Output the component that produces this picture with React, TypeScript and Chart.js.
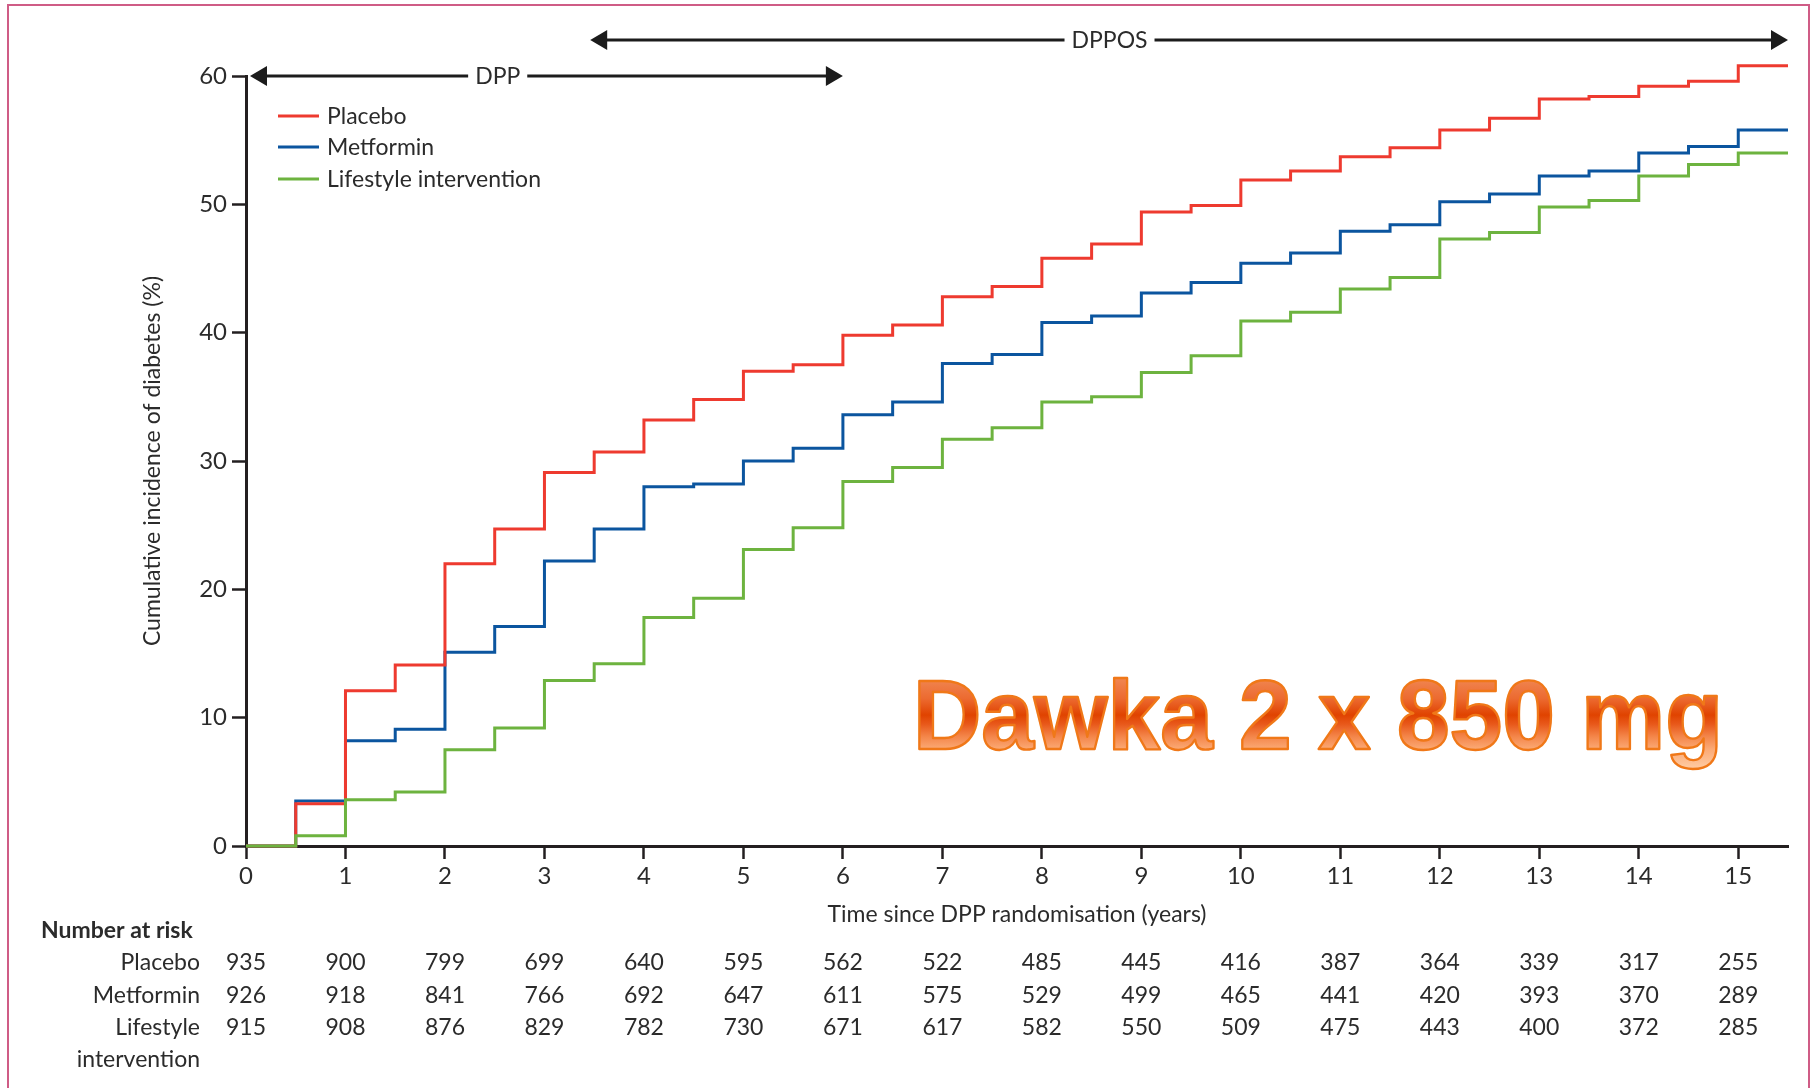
import React, { useEffect, useRef } from 'react';
import { Chart, registerables } from 'chart.js';

Chart.register(...registerables);

// ---- data ----
const years = [0, 0.5, 1, 1.5, 2, 2.5, 3, 3.5, 4, 4.5, 5, 5.5, 6, 6.5, 7, 7.5, 8, 8.5, 9, 9.5, 10, 10.5, 11, 11.5, 12, 12.5, 13, 13.5, 14, 14.5, 15, 15.5];
const placebo = [0, 3.3, 12.1, 14.1, 22.0, 24.7, 29.1, 30.7, 33.2, 34.8, 37.0, 37.5, 39.8, 40.6, 42.8, 43.6, 45.8, 46.9, 49.4, 49.9, 51.9, 52.6, 53.7, 54.4, 55.8, 56.7, 58.2, 58.4, 59.2, 59.6, 60.8, 60.8];
const metformin = [0, 3.5, 8.2, 9.1, 15.1, 17.1, 22.2, 24.7, 28.0, 28.2, 30.0, 31.0, 33.6, 34.6, 37.6, 38.3, 40.8, 41.3, 43.1, 43.9, 45.4, 46.2, 47.9, 48.4, 50.2, 50.8, 52.2, 52.6, 54.0, 54.5, 55.8, 55.8];
const lifestyle = [0, 0.8, 3.6, 4.2, 7.5, 9.2, 12.9, 14.2, 17.8, 19.3, 23.1, 24.8, 28.4, 29.5, 31.7, 32.6, 34.6, 35.0, 36.9, 38.2, 40.9, 41.6, 43.4, 44.3, 47.3, 47.8, 49.8, 50.3, 52.2, 53.1, 54.0, 54.0];

const seriesNames = ['Placebo', 'Metformin', 'Lifestyle intervention'];
const seriesColors = ['#ee3a2f', '#0b559f', '#6db33f'];

const riskYears = [0, 1, 2, 3, 4, 5, 6, 7, 8, 9, 10, 11, 12, 13, 14, 15];
const riskPlacebo = [935, 900, 799, 699, 640, 595, 562, 522, 485, 445, 416, 387, 364, 339, 317, 255];
const riskMetformin = [926, 918, 841, 766, 692, 647, 611, 575, 529, 499, 465, 441, 420, 393, 370, 289];
const riskLifestyle = [915, 908, 876, 829, 782, 730, 671, 617, 582, 550, 509, 475, 443, 400, 372, 285];
const riskLabels = [['Placebo'], ['Metformin'], ['Lifestyle', 'intervention']];

const periods = [
  { label: 'DPP', from: 0.04, to: 6.0, level: 60, labelAt: 2.53 },
  { label: 'DPPOS', from: 3.46, to: 15.5, level: 62.8, labelAt: 8.68 },
];

const stampText = 'Dawka 2 x 850 mg';

// ---- styles ----
const FONT = 'Lato, "Open Sans", "DejaVu Sans", sans-serif';
const TEXT = '#2b2b2b';
const AXIS = '#231f20';

const overlayPlugin = {
  id: 'overlay',
  afterDraw(chart: any) {
    const { ctx } = chart;
    const xs = chart.scales.x;
    const ys = chart.scales.y;
    ctx.save();

    // frame
    ctx.strokeStyle = '#cf5c86';
    ctx.lineWidth = 2;
    ctx.strokeRect(8, 5, 1801, 1200);

    // legend
    ctx.font = `23px ${FONT}`;
    ctx.textBaseline = 'middle';
    ctx.textAlign = 'left';
    const legY = [116, 147, 179];
    seriesNames.forEach((n, i) => {
      ctx.strokeStyle = seriesColors[i];
      ctx.lineWidth = 3;
      ctx.beginPath();
      ctx.moveTo(278, legY[i]);
      ctx.lineTo(319, legY[i]);
      ctx.stroke();
      ctx.fillStyle = TEXT;
      ctx.fillText(n, 327, legY[i] + 1);
    });

    // period arrows
    periods.forEach((p) => {
      const x1 = xs.getPixelForValue(p.from);
      const x2 = xs.getPixelForValue(p.to);
      const yy = ys.getPixelForValue(p.level);
      const lx = xs.getPixelForValue(p.labelAt);
      ctx.font = `23px ${FONT}`;
      const w = ctx.measureText(p.label).width;
      const gap = 7;
      const head = 17;
      const hh = 10;
      ctx.strokeStyle = '#1c1c1c';
      ctx.fillStyle = '#1c1c1c';
      ctx.lineWidth = 3;
      ctx.beginPath();
      ctx.moveTo(x1 + head - 1, yy);
      ctx.lineTo(lx - w / 2 - gap, yy);
      ctx.moveTo(lx + w / 2 + gap, yy);
      ctx.lineTo(x2 - head + 1, yy);
      ctx.stroke();
      ctx.beginPath();
      ctx.moveTo(x1, yy);
      ctx.lineTo(x1 + head, yy - hh);
      ctx.lineTo(x1 + head, yy + hh);
      ctx.closePath();
      ctx.fill();
      ctx.beginPath();
      ctx.moveTo(x2, yy);
      ctx.lineTo(x2 - head, yy - hh);
      ctx.lineTo(x2 - head, yy + hh);
      ctx.closePath();
      ctx.fill();
      ctx.fillStyle = TEXT;
      ctx.textAlign = 'center';
      ctx.textBaseline = 'middle';
      ctx.fillText(p.label, lx, yy + 1);
    });

    // number at risk table
    ctx.fillStyle = TEXT;
    ctx.textBaseline = 'middle';
    ctx.font = `bold 23px ${FONT}`;
    ctx.textAlign = 'left';
    ctx.fillText('Number at risk', 41, 931);
    ctx.font = `23px ${FONT}`;
    const rowY = [963, 996, 1028];
    const rows = [riskPlacebo, riskMetformin, riskLifestyle];
    rows.forEach((vals, r) => {
      ctx.textAlign = 'right';
      riskLabels[r].forEach((t, k) => ctx.fillText(t, 200, rowY[r] + k * 32));
      ctx.textAlign = 'center';
      vals.forEach((v, i) => {
        ctx.fillText(String(v), xs.getPixelForValue(riskYears[i]), rowY[r]);
      });
    });

    // stamp text (gradient-filled, outlined)
    ctx.font = `bold 98px "Liberation Sans", Arial, sans-serif`;
    ctx.textAlign = 'left';
    ctx.textBaseline = 'alphabetic';
    const m = ctx.measureText(stampText).width;
    const sx = 810 / m;
    const base = 749;
    ctx.translate(913, base);
    ctx.scale(sx, 1);
    const grad = ctx.createLinearGradient(0, -70, 0, 20);
    grad.addColorStop(0, '#f08550');
    grad.addColorStop(0.22, '#ec6a30');
    grad.addColorStop(0.4, '#e04300');
    grad.addColorStop(0.5, '#e8581a');
    grad.addColorStop(0.64, '#f4864a');
    grad.addColorStop(0.78, '#fbaa76');
    grad.addColorStop(1, '#ffcca4');
    ctx.fillStyle = grad;
    ctx.fillText(stampText, 0, 0);
    ctx.strokeStyle = '#f07818';
    ctx.lineWidth = 2.4;
    ctx.lineJoin = 'round';
    ctx.strokeText(stampText, 0, 0);

    ctx.restore();
  },
};

export default function App() {
  const ref = useRef<HTMLCanvasElement>(null);

  useEffect(() => {
    const canvas = ref.current;
    if (!canvas) return;
    const mk = (vals: number[]) => years.map((t, i) => ({ x: t, y: vals[i] }));
    const chart = new Chart(canvas, {
      type: 'line',
      data: {
        datasets: [
          { label: seriesNames[0], data: mk(placebo), borderColor: seriesColors[0], order: 1 },
          { label: seriesNames[1], data: mk(metformin), borderColor: seriesColors[1], order: 2 },
          { label: seriesNames[2], data: mk(lifestyle), borderColor: seriesColors[2], order: 0 },
        ].map((d) => ({
          ...d,
          stepped: true,
          borderWidth: 3,
          pointRadius: 0,
          fill: false,
          clip: false,
          borderJoinStyle: 'miter',
          borderCapStyle: 'butt',
        })) as any,
      },
      options: {
        responsive: false,
        animation: false,
        events: [],
        layout: { padding: { left: 0, right: 24, top: 76, bottom: 0 } },
        scales: {
          x: {
            type: 'linear',
            min: 0,
            max: 15.5,
            afterFit: (s: any) => {
              s.height = 242;
            },
            grid: { drawOnChartArea: false, drawTicks: true, tickLength: 13, tickWidth: 2.5, tickColor: AXIS },
            border: { display: true, color: AXIS, width: 3 },
            ticks: {
              stepSize: 1,
              includeBounds: false,
              autoSkip: false,
              maxRotation: 0,
              font: { family: FONT, size: 24 },
              color: TEXT,
              padding: 3,
            },
            title: {
              display: true,
              text: 'Time since DPP randomisation (years)',
              font: { family: FONT, size: 23 },
              color: TEXT,
              padding: { top: 0, bottom: 160 },
            },
          },
          y: {
            min: 0,
            max: 60,
            afterFit: (s: any) => {
              s.width = 246;
            },
            grid: { drawOnChartArea: false, drawTicks: true, tickLength: 14, tickWidth: 2.5, tickColor: AXIS },
            border: { display: true, color: AXIS, width: 3 },
            ticks: {
              stepSize: 10,
              font: { family: FONT, size: 24 },
              color: TEXT,
              padding: 5,
            },
            title: {
              display: true,
              text: 'Cumulative incidence of diabetes (%)',
              font: { family: FONT, size: 23 },
              color: TEXT,
              padding: { top: 139, bottom: 0 },
            },
          },
        },
        plugins: {
          legend: { display: false },
          tooltip: { enabled: false },
        },
      } as any,
      plugins: [overlayPlugin],
    });
    return () => chart.destroy();
  }, []);

  return (
    <div style={{ position: 'fixed', left: 0, top: 0, width: 1812, height: 1088, background: '#fff' }}>
      <canvas ref={ref} width={1812} height={1088} style={{ display: 'block', width: 1812, height: 1088 }} />
    </div>
  );
}
